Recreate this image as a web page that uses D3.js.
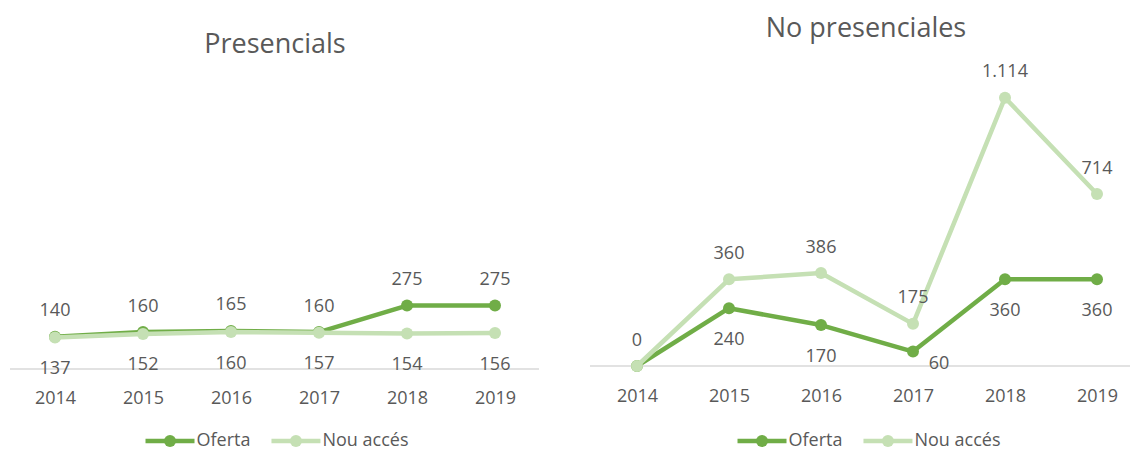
<!DOCTYPE html>
<html><head><meta charset="utf-8">
<script src="https://cdn.jsdelivr.net/npm/d3@7"></script>
<style>
html,body{margin:0;padding:0;background:#fff;}
svg{display:block;font-family:"Open Sans",sans-serif;}
</style></head>
<body><svg id="c" width="1130" height="451"></svg>
<script>
const years = ["2014","2015","2016","2017","2018","2019"];
const seriesNames = ["Oferta","Nou accés"];
const presOferta = [140,160,165,160,275,275];
const presNou = [137,152,160,157,154,156];
const noPresOferta = [0,240,170,60,360,360];
const noPresNou = [0,360,386,175,1114,714];
const titles = ["Presencials","No presenciales"];

const colors = {"Oferta":"#70ad47","Nou accés":"#c5e0b4"};
const textCol = "#595959";
const loc = d3.formatLocale({decimal:",",thousands:".",grouping:[3],currency:["","€"]});
const fmt = loc.format(",d");

const svg = d3.select("#c");
const FS = 18;

const panels = [
  {title:titles[0], oferta:presOferta, nou:presNou, xr:[55,495], axisX:[10,539], yr:[369,46], ymax:1400, titleX:275, titleY:53, yearY:403.5, legY:441, legCx:277,
   place:{oferta:["above","above","above","above","above","above"], nou:["below","below","below","below","below","below"]}},
  {title:titles[1], oferta:noPresOferta, nou:noPresNou, xr:[637,1097], axisX:[590,1130], yr:[366,77], ymax:1200, titleX:866, titleY:37, yearY:401.5, legY:441, legCx:869,
   place:{oferta:["none","below","below","right","below","below"], nou:["above","above","above","above","above","above"]}}
];

panels.forEach(p=>{
  const g = svg.append("g");
  const x = d3.scalePoint().domain(years).range(p.xr);
  const y = d3.scaleLinear().domain([0,p.ymax]).range(p.yr);

  g.append("text").attr("x",p.titleX).attr("y",p.titleY).attr("text-anchor","middle")
    .attr("font-size",27).attr("fill",textCol).text(p.title);

  const ax = g.append("g").attr("transform",`translate(0,${y(0)})`)
    .call(d3.axisBottom(x).tickSize(0).tickPadding(0));
  ax.select(".domain").remove();
  ax.append("line").attr("x1",p.axisX[0]).attr("x2",p.axisX[1]).attr("stroke","#d9d9d9").attr("stroke-width",1.3);
  ax.selectAll(".tick text").attr("y",p.yearY-y(0)).attr("dy",0).attr("font-size",FS)
    .attr("fill",textCol).attr("font-family","'Open Sans',sans-serif");

  const series = [{name:"Oferta",vals:p.oferta,place:p.place.oferta},{name:"Nou accés",vals:p.nou,place:p.place.nou}];
  const line = d3.line().x((d,i)=>x(years[i])).y(d=>y(d));
  series.forEach(s=>{
    g.append("path").datum(s.vals).attr("d",line).attr("fill","none")
      .attr("stroke",colors[s.name]).attr("stroke-width",4.5).attr("stroke-linejoin","round").attr("stroke-linecap","round");
    g.selectAll(null).data(s.vals).join("circle")
      .attr("cx",(d,i)=>x(years[i])).attr("cy",d=>y(d)).attr("r",6).attr("fill",colors[s.name]);
  });
  series.forEach(s=>{
    g.selectAll(null).data(s.vals.map((v,i)=>({v,i,pl:s.place[i]})).filter(d=>d.pl!=="none")).join("text")
      .attr("x",d=>x(years[d.i]) + (d.pl==="right"?26:0))
      .attr("y",d=>y(d.v) + (d.pl==="above"?-27:d.pl==="below"?30:11) + 6.5)
      .attr("text-anchor","middle").attr("font-size",FS).attr("fill",textCol)
      .text(d=>fmt(d.v));
  });

  const lg = g.append("g");
  let cx = 0;
  seriesNames.forEach(n=>{
    const it = lg.append("g").attr("transform",`translate(${cx},0)`);
    it.append("line").attr("x1",0).attr("x2",49).attr("y1",0).attr("y2",0).attr("stroke",colors[n]).attr("stroke-width",4.5);
    it.append("circle").attr("cx",24.5).attr("cy",0).attr("r",6).attr("fill",colors[n]);
    const t = it.append("text").attr("x",51).attr("y",5).attr("font-size",FS).attr("fill",textCol).text(n);
    const w = t.node().getComputedTextLength();
    cx += 51 + w + 21;
  });
  const total = cx - 21;
  lg.attr("transform",`translate(${p.legCx - total/2},${p.legY})`);
});
</script></body></html>
